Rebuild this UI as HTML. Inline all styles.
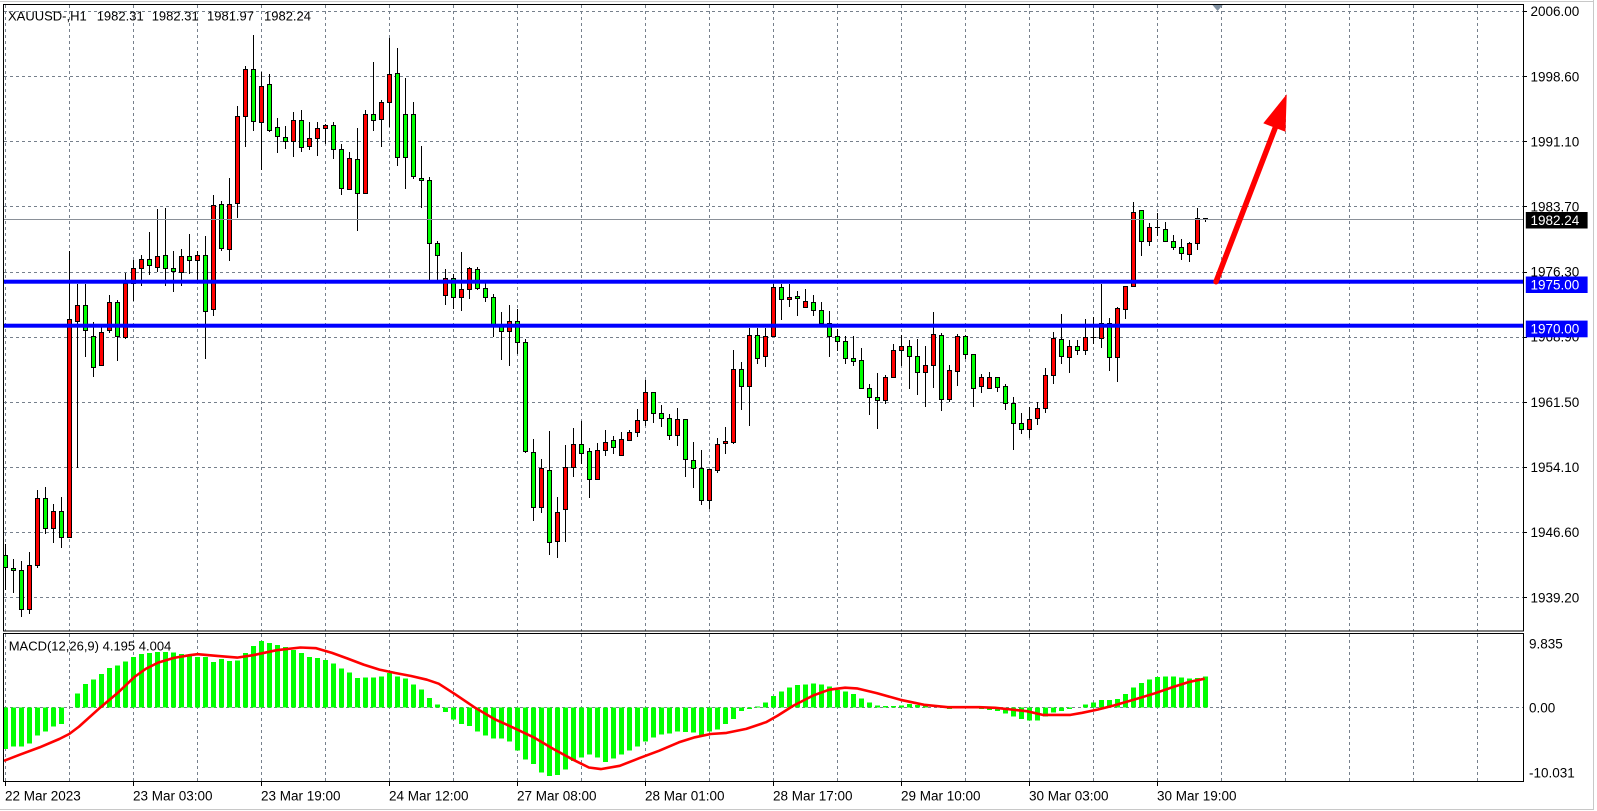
<!DOCTYPE html>
<html><head><meta charset="utf-8"><style>
html,body{margin:0;padding:0;background:#fff;width:1597px;height:811px;overflow:hidden}
svg{display:block}
text{font-family:"Liberation Sans",Arial,sans-serif;font-size:13.5px;fill:#000}
</style></head><body>
<svg id="s" width="1597" height="811" viewBox="0 0 1597 811" xmlns="http://www.w3.org/2000/svg">
<rect x="0" y="0" width="1597" height="811" fill="#fff"/>
<line x1="0" y1="1.5" x2="1594" y2="1.5" stroke="#c8c8c8"/>
<line x1="1593.5" y1="0" x2="1593.5" y2="810" stroke="#c8c8c8"/>
<line x1="0" y1="809.5" x2="1594" y2="809.5" stroke="#c8c8c8"/>
<g id="grid" stroke="#76808c" stroke-width="1" stroke-dasharray="3,3" shape-rendering="crispEdges"></g>
<g id="hist" shape-rendering="crispEdges"></g>
<g id="candles" shape-rendering="crispEdges"></g>
<line x1="4" y1="219.5" x2="1523" y2="219.5" stroke="#8a9098" shape-rendering="crispEdges"/>
<rect x="4" y="279.7" width="1519" height="4" fill="#0000ff"/>
<rect x="4" y="323.7" width="1519" height="4" fill="#0000ff"/>
<polyline id="sig" fill="none" stroke="#ff0000" stroke-width="2.6" stroke-linejoin="round"/>
<line x1="1216" y1="281.7" x2="1279" y2="118" stroke="#ff0000" stroke-width="5.5" stroke-linecap="round"/>
<polygon points="1286.7,94.3 1263.3,123.3 1285.5,131.7" fill="#ff0000"/>
<polygon points="1211.6,4 1223.6,4 1217.6,11" fill="#8090a0"/>
<!-- frames -->
<g fill="none" stroke="#000" shape-rendering="crispEdges">
<rect x="3.5" y="4.5" width="1520" height="626.5"/>
<rect x="3.5" y="633.5" width="1520" height="148"/>
</g>
<!-- title -->
<text x="8" y="20.5" style="font-size:13px">XAUUSD-,H1</text>
<text x="96.7" y="20.5" style="font-size:13px">1982.31</text>
<text x="151.7" y="20.5" style="font-size:13px">1982.31</text>
<text x="207" y="20.5" style="font-size:13px">1981.97</text>
<text x="264" y="20.5" style="font-size:13px">1982.24</text>
<text x="8.7" y="650.5" style="font-size:13px">MACD(12,26,9) 4.195 4.004</text>
<!-- price labels -->
<g id="plab"></g>
<rect x="1525.8" y="212" width="61.8" height="16.5" fill="#000"/>
<text x="1530.5" y="225" style="fill:#fff">1982.24</text>
<rect x="1525.8" y="276.5" width="61.8" height="16.5" fill="#0000ff"/>
<text x="1530.5" y="289.5" style="fill:#fff">1975.00</text>
<rect x="1525.8" y="320.6" width="61.8" height="16.7" fill="#0000ff"/>
<text x="1530.5" y="333.6" style="fill:#fff">1970.00</text>
<text x="1529" y="648.5">9.835</text>
<text x="1529" y="712.3">0.00</text>
<text x="1529" y="777.3">-10.031</text>
<g id="tl"></g>
</svg>
<script>
var NS="http://www.w3.org/2000/svg",s=document.getElementById('s');
function el(p,t,a){var e=document.createElementNS(NS,t);for(var k in a)e.setAttribute(k,a[k]);p.appendChild(e);return e;}
var grid=document.getElementById('grid');
for(var m=0;m<24;m++){var x=5.5+64*m;if(x>1523)break;el(grid,'line',{x1:x,y1:5,x2:x,y2:631});el(grid,'line',{x1:x,y1:634,x2:x,y2:781});}
var pv=[["2006.00",11],["1998.60",76.3],["1991.10",141.3],["1983.70",206.3],["1976.30",271.5],["1968.90",336.7],["1961.50",401.8],["1954.10",467],["1946.60",532.2],["1939.20",597.4]];
var pl=document.getElementById('plab');
pv.forEach(function(p){var y=Math.round(p[1])+0.5;el(grid,'line',{x1:4,y1:y,x2:1523,y2:y});
el(pl,'line',{x1:1523,y1:y,x2:1527,y2:y,stroke:'#000'});
var t=el(pl,'text',{x:1530.5,y:p[1]+5});t.textContent=p[0];});
el(grid,'line',{x1:4,y1:707.5,x2:1523,y2:707.5});
var tl=document.getElementById('tl');
["22 Mar 2023","23 Mar 03:00","23 Mar 19:00","24 Mar 12:00","27 Mar 08:00","28 Mar 01:00","28 Mar 17:00","29 Mar 10:00","30 Mar 03:00","30 Mar 19:00"].forEach(function(l,k){
var x=5+128*k;var t=el(tl,'text',{x:x,y:800.5});t.textContent=l;el(tl,'line',{x1:x+0.5,y1:782,x2:x+0.5,y2:786,stroke:'#000'});});
var C=[
[555.3,567.2,544.3,588.7,'g'],[567.6,569.5,559,592.4,'g'],[569.5,609,561,616,'g'],[565.4,609,552.4,613,'r'],[497.7,565.4,489.5,567.2,'r'],
[498.4,527.7,486.6,533.2,'g'],[511.4,527.7,504,541.7,'r'],[511.4,537.3,496.6,547.3,'g'],[319.3,536.5,250.5,536.5,'r'],[304.5,320.5,283.8,466.6,'r'],
[304.5,330.4,283.8,355.6,'g'],[335.6,367.4,321.6,375.6,'g'],[331.6,365.2,327.1,365.2,'r'],[302.3,330.4,294.9,331.6,'r'],[302.3,336.4,300.1,360.4,'g'],
[283.1,337.1,273.1,337.8,'r'],[267.5,283.1,260.1,300.1,'r'],[259.4,267.5,255,284.6,'r'],[259.4,265.3,232,274.2,'g'],[256.4,266.8,209,271.2,'r'],
[255.3,267.5,208.3,284.6,'g'],[267.5,270.9,250.5,290.9,'g'],[256.4,271.6,249,284.6,'r'],[256.4,260.1,234.2,272.7,'g'],[254.6,260.1,250.5,278.6,'r'],
[254.6,310.5,236.1,357.8,'g'],[204.6,309.4,195,314.9,'r'],[203.5,248.3,201.3,249.8,'g'],[204.3,249,178,260.1,'r'],[115.5,203.2,106.2,216.9,'r'],
[68.5,115.5,66.3,145.8,'r'],[68.5,121.4,35.2,129.9,'g'],[85.5,122.1,71.8,169.1,'r'],[83.7,129.9,74.4,131,'g'],[127.3,135.5,118.1,151.7,'g'],
[136.6,140.6,125.5,147.7,'g'],[119.5,141.3,112.1,155.8,'r'],
[119.5,146.6,110.3,151,'g'],[137.8,145.6,122.2,149,'r'],[127.6,138.1,122.2,155.4,'r'],[124.6,128,123.6,142.9,'r'],[124.6,148.7,122.2,158.1,'g'],
[148.7,187.6,143.6,194.4,'g'],[157.8,188.7,151.7,188.7,'r'],[158.8,192.7,127.6,230,'g'],[113.7,192.7,110.3,192.7,'r'],[113.7,119.5,62.2,130,'g'],
[101.5,118.5,99.5,146.3,'r'],[74.4,101.5,38.1,125.9,'r'],[73.4,156.8,48,164.9,'g'],[113.7,156.8,78.1,188,'g'],[113.7,176.1,102.2,178.1,'g'],
[177.8,179.8,146.3,207,'g'],[179.8,242.9,176.8,279.8,'g'],[242.9,255.1,240.5,282.2,'g'],[278.1,295.1,269,303.6,'r'],[278.1,296.5,274.1,307.6,'g'],
[289,296.5,251.7,310.4,'r'],[268,289,267.3,298.1,'r'],[269.3,288.3,267.3,289.3,'g'],[288.3,296.5,280.2,300.5,'g'],[296.5,324.9,293.7,335.8,'g'],
[324.9,331,312,358.5,'g'],[320.5,331,305.3,364.6,'r'],[321.2,342.2,308.7,353.1,'g'],[342.2,451,338.5,451.7,'g'],[452,507,439.2,519.9,'g'],
[468,507,459.2,512,'r'],[470,541.9,431.4,553.8,'g'],[511.7,540.9,496.8,557.1,'r'],[467,508.7,445.3,541.2,'r'],[443.6,467,428.3,476.1,'r'],
[443.6,452.7,421.2,463.2,'g'],[451.3,479.3,448,496.7,'g'],
[450.3,479.3,443,479.3,'r'],[442.3,450.3,430,454.7,'r'],[440.3,447.3,436,453.3,'g'],[439.3,455.3,432,455.3,'r'],[432.3,439.7,430,440.3,'r'],
[420.3,432.3,409,435.7,'r'],[392.3,420.3,380,425,'r'],[392.3,413.3,392.3,421.7,'g'],[413.3,418.3,405,425.7,'g'],[418.3,435.3,414,438.7,'g'],
[419.3,435.3,408,444.7,'r'],[419.3,459.3,419.3,475.7,'g'],[460.3,468.3,442,486.7,'g'],[468.3,500.3,450,504,'g'],[469.3,500.3,469.3,508,'r'],
[444,470.3,438.3,472,'r'],[441.3,443.3,427,452.7,'r'],[369.3,441.7,350,442.7,'r'],[369.3,386.3,362,408.7,'g'],[335.3,386.3,328.3,424.7,'r'],
[335.3,357.7,328.3,362.7,'g'],[336.3,356.3,328.3,365.7,'r'],[287.3,336.3,284,336.3,'r'],[287.3,299.3,284,318.7,'g'],[297.3,299.3,284,305.7,'r'],
[296.3,298.3,291.3,314.7,'g'],[301.3,307.3,289.3,307.3,'r'],[302.3,310.3,295.3,314.7,'g'],[310.3,323.3,302.3,323.3,'g'],[323.3,335.7,311.3,355.7,'g'],
[336.3,341.3,328.7,349.7,'g'],[341,358.3,336.3,363.3,'g'],[358.3,361.3,336.3,364.7,'g'],[360.3,388.3,348.3,388.3,'g'],[388.3,397.3,384,413.7,'g'],
[397.3,400.3,373.3,427.7,'g'],[377.3,400.3,375.3,403.3,'r'],[350.3,377.3,344.3,377.3,'r'],
[346,350.3,335.3,365.3,'r'],[346,356.3,340,387.7,'g'],[356.3,372.3,339,394.3,'g'],[365,372.3,345.7,405.7,'r'],[334.3,365.3,312.3,386.7,'r'],
[335.3,399.3,332.7,409.7,'g'],[370.3,399.3,365,401.3,'r'],[336.3,371.3,334.3,384.7,'r'],[336.3,354,335.3,358.3,'g'],[354.3,388.3,354.3,405.7,'g'],
[376.7,385.7,374.3,391.7,'r'],[377.3,388.3,372.3,388.3,'r'],[377.3,387.3,376.7,390.7,'g'],[386.3,403.3,384.3,408.7,'g'],[403.3,423.3,397.3,449.3,'g'],
[423.3,429.3,412.7,433,'g'],[418.7,429.3,407.3,436.7,'r'],[408.3,418.3,402.3,424.3,'r'],[375.3,407.7,367.7,412.3,'r'],[338,375.3,331.7,382.7,'r'],
[339,356.3,314,362.7,'g'],[346,357.3,340,371.7,'r'],[346,350.3,340,354.3,'g'],[337,350.3,319,354.3,'r'],[337,338,316.7,342.7,'k'],
[323.3,338,284,347.3,'r'],[323.3,357.3,318,369.7,'g'],[308.3,357.3,307,380.7,'r'],[286.3,309,286.3,318.3,'r'],[212.3,286.3,202.3,286.3,'r'],
[210.3,241.3,210.3,255.3,'g'],[227.3,241.3,223,244.7,'r'],[227.3,228.3,213.3,235.3,'k'],[229.3,241.3,222.3,241.3,'g'],[241.3,247.3,235.3,248.7,'g'],
[247.3,253.3,239.3,258.7,'g'],[243.3,254.3,242.3,260.7,'r'],[218.3,243.3,208,248.7,'r'],[218.3,219.3,218.3,221,'k']];
var cg=document.getElementById('candles');
C.forEach(function(c,i){var cx=5+8*i;
var hi=Math.round(c[2]),lo=Math.round(c[3]),bt=Math.round(c[0]),bb=Math.round(c[1]);
el(cg,'line',{x1:cx+0.5,y1:hi,x2:cx+0.5,y2:lo+1,stroke:'#000'});
if(c[4]=='k'){el(cg,'line',{x1:cx-2,y1:bt+0.5,x2:cx+3,y2:bt+0.5,stroke:'#000'});return;}
var h=Math.max(bb-bt,2);
el(cg,'rect',{x:cx-1.5,y:bt+0.5,width:4,height:h,fill:c[4]=='r'?'#ff0000':'#00ff00',stroke:'#000','stroke-width':1});
});
var H=[415,407,407,398,374,362,348,341,291,249,221,207,191,173,166,153,141,131,129,126,126,127,131,134,141,141,155,147,152,151,129,107,93,98,104,110,119,128,141,144,149,159,175,187,203,201,201,198,188,198,205,222,237,262,282,304,327,341,346,362,375,384,384,393,420,447,460,485,496,492,476,451,441,431,440,
453,443,432,420,408,393,380,372,369,363,364,366,373,362,357,340,326,302,295,288,276,256,243,231,224,222,219,222,228,239,244,251,264,276,285,287,286,285,280,283,286,289,292,296,293,292,291,295,299,301,309,318,325,330,330,318,306,301,295,289,282,276,269,269,265,251,231,218,207,200,198,199,202,205,203,198];
var hg=document.getElementById('hist');
H.forEach(function(z,i){var y=610+z*0.335,cx=5+8*i,y0=707.5;var t=Math.min(y,y0),b=Math.max(y,y0);if(b-t<0.8)return;
el(hg,'rect',{x:cx-2,y:t,width:5,height:b-t,fill:'#00ff00'});});
var P=[[4,760.8],[19.8,754.7],[39.5,747.4],[59.3,739],[69.2,734],[79,726.6],[98.8,708.8],[118.6,692.1],[134.4,677],[146.2,668.6],[158.1,662.6],[173.9,657.9],[189.7,655.2],[197.6,654.2],[217.4,655.9],[237.2,657.6],[253,655.2],[276.7,650.2],[300.4,647.5],[316.2,648.2],[332,652.9],[347.8,658.6],[363.6,664.6],[379.4,669.6],[395.3,673],[411.1,676],[426.9,679.7],[438.7,683.7],[454.5,693.8],[474.3,707.2],[494.1,718.9],[513.8,727.9],[533.6,737.3],[553.4,749],[573.1,759.7],[588.9,767.5],[600.8,769.1],[619.8,765.8],[639.5,758.1],[659.3,750.7],[679,742.3],[694.9,737.3],[710.7,734],[726.5,732.9],[746.2,728.9],[766,722.2],[777.9,715.5],[793.7,705.5],[813.4,695.4],[829.2,689.7],[845.1,687.7],[856.9,688.4],[876.7,693.1],[900.4,699.8],[924.1,704.8],[947.8,707.2],[979.4,707.2],[995.3,707.8],[1011.1,709.5],[1026.9,711.2],[1042.7,714.9],[1070.4,714.9],[1082.2,712.8],[1098,709.5],[1113.8,705.5],[1133.6,699.8],[1153.4,693.8],[1173.1,687],[1188.9,682],[1204.7,678.7]];
document.getElementById('sig').setAttribute('points',P.map(function(p){return p[0]+','+p[1]}).join(' '));
</script>
</body></html>
